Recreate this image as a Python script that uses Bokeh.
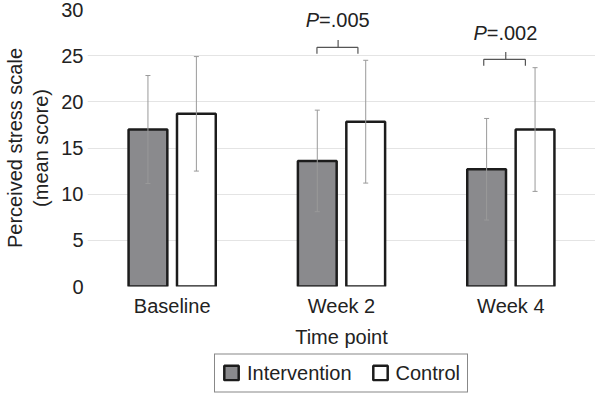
from bokeh.plotting import figure
from bokeh.layouts import column
from bokeh.models import (FactorRange, Range1d, FixedTicker, Whisker, TeeHead,
                          ColumnDataSource, Legend, LegendItem)
from bokeh.transform import dodge
from bokeh.core.properties import value
from bokeh.embed import file_html
from bokeh.resources import INLINE

# ---- data ----
timepoints = ["Baseline", "Week 2", "Week 4"]
intervention_mean = [17.0, 13.6, 12.7]
intervention_sd = [5.85, 5.5, 5.5]
control_mean = [18.7, 17.85, 17.0]
control_sd = [6.2, 6.65, 6.7]
y_ticks = [0, 5, 10, 15, 20, 25, 30]
p_timepoints = ["Week 2", "Week 4"]
p_values = ["=.005", "=.002"]
series_names = ["Intervention", "Control"]

# ---- styling / layout ----
FONT = "Liberation Sans"
TXT = "#222222"
FS = "20px"
OFF = 0.143
BW = 0.229
FILLS = ["#8a8a8d", "white"]
EDGE = "#1c1c1c"

p = figure(x_range=FactorRange(factors=timepoints, range_padding=0),
           y_range=Range1d(0, 30), width=595, height=350,
           output_backend="svg", toolbar_location=None,
           min_border_left=76, min_border_right=0, min_border_top=9,
           min_border_bottom=64)
p.outline_line_color = None
p.background_fill_color = "white"
p.border_fill_color = "white"

def src(mean, sd):
    return ColumnDataSource(dict(cat=timepoints, mean=mean,
                                 lower=[m - s for m, s in zip(mean, sd)],
                                 upper=[m + s for m, s in zip(mean, sd)]))

si = src(intervention_mean, intervention_sd)
sc = src(control_mean, control_sd)

p.vbar(x=dodge("cat", -OFF, range=p.x_range), top="mean", width=BW, source=si,
       fill_color=FILLS[0], line_color=EDGE, line_width=2.5)
p.vbar(x=dodge("cat", OFF, range=p.x_range), top="mean", width=BW, source=sc,
       fill_color=FILLS[1], line_color=EDGE, line_width=2.5)

for s, off in ((si, -OFF), (sc, OFF)):
    w = Whisker(base=dodge("cat", off, range=p.x_range), upper="upper", lower="lower",
                source=s, line_color="#9a9a9a", line_width=1, level="overlay",
                upper_head=TeeHead(size=5, line_color="#9a9a9a", line_width=1),
                lower_head=TeeHead(size=5, line_color="#9a9a9a", line_width=1))
    p.add_layout(w)

# significance brackets
bracket_y = [25.9, 24.6]
bracket_left = [-0.145, -0.16]
bracket_right = [0.097, 0.086]
bracket_mid = [-0.02, -0.03]
text_y = [28.9, 27.5]
drop = 0.7
rise = 0.8
x0, x1, y0, y1 = [], [], [], []
tx = []
for tp, yh, bl, br, bm in zip(p_timepoints, bracket_y, bracket_left, bracket_right, bracket_mid):
    c = timepoints.index(tp) + 0.5
    xl, xr, xm = c + bl, c + br, c + bm
    x0 += [xl, xl, xr, xm]
    y0 += [yh - drop, yh, yh, yh]
    x1 += [xl, xr, xr, xm]
    y1 += [yh, yh, yh - drop, yh + rise]
    tx.append(xm)
p.segment(x0=x0, y0=y0, x1=x1, y1=y1, line_color="#555555", line_width=1.2)

p.text(x=tx, y=text_y, text=["P"] * len(tx), text_align="right",
       text_baseline="alphabetic", text_font=value(FONT), text_font_size="20px",
       text_font_style="italic", text_color=TXT, x_offset=-19)
p.text(x=tx, y=text_y, text=p_values, text_align="left",
       text_baseline="alphabetic", text_font=value(FONT), text_font_size="20px",
       text_color=TXT, x_offset=-19)

# axes / grid
p.xgrid.grid_line_color = None
p.ygrid.grid_line_color = "#e4e4e4"
p.ygrid.grid_line_width = 1
p.yaxis.ticker = FixedTicker(ticks=y_ticks)
for ax in (p.xaxis[0], p.yaxis[0]):
    ax.axis_line_color = None
    ax.major_tick_line_color = None
    ax.minor_tick_line_color = None
    ax.major_tick_out = 0
    ax.major_tick_in = 0
    ax.minor_tick_out = 0
    ax.minor_tick_in = 0
    ax.major_label_text_font = FONT
    ax.major_label_text_font_size = FS
    ax.major_label_text_color = TXT
    ax.axis_label_text_font = FONT
    ax.axis_label_text_font_size = FS
    ax.axis_label_text_color = TXT
    ax.axis_label_text_font_style = "normal"
p.yaxis.major_label_standoff = 4
p.yaxis.axis_label = "Perceived stress scale\n(mean score)"
p.yaxis.axis_label_standoff = 6
p.xaxis.major_label_standoff = 8
p.xaxis.axis_label = "Time point"
p.xaxis.axis_label_standoff = 6

# legend strip (separate figure, aligned with the main frame)
lg = figure(x_range=Range1d(0, 1), y_range=Range1d(0, 1), width=595, height=45,
            output_backend="svg", toolbar_location=None,
            min_border_left=76, min_border_right=0, min_border_top=0,
            min_border_bottom=0)
lg.axis.visible = False
lg.grid.visible = False
lg.outline_line_color = None
lg.border_fill_color = "white"
items = []
nan = float("nan")
for name, fill in zip(series_names, FILLS):
    # undrawable (NaN) bar that only supplies the legend swatch style
    r = lg.vbar(x=[nan], top=[nan], width=0.1,
                fill_color=fill, line_color=EDGE, line_width=2.5)
    items.append(LegendItem(label=name, renderers=[r]))
legend = Legend(items=items, orientation="horizontal", location="center",
                label_text_font=FONT, label_text_font_size=FS, label_text_color=TXT,
                glyph_width=18, glyph_height=18, label_standoff=7, spacing=19,
                padding=7, margin=0, border_line_color="#111111", border_line_width=1.5,
                background_fill_color="white", background_fill_alpha=1)
lg.add_layout(legend, "center")

layout = column(p, lg, spacing=0)
open("out.html", "w").write(file_html(layout, INLINE))
